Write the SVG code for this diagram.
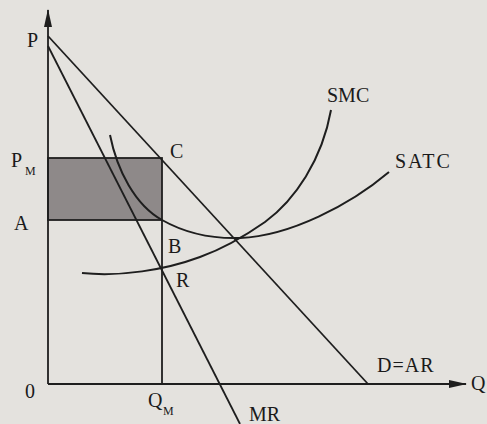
<svg xmlns="http://www.w3.org/2000/svg" width="487" height="424" viewBox="0 0 487 424">
<style>
.ln{fill:none;stroke:#1e1e1e;stroke-width:1.8}
.cv{fill:none;stroke:#1e1e1e;stroke-width:2}
.t{font-family:"Liberation Serif","Times New Roman",serif;font-size:20px;fill:#1a1a1a}
.s{font-family:"Liberation Serif","Times New Roman",serif;font-size:12px;fill:#1a1a1a}
</style>
<defs>
<marker id="ah" viewBox="0 0 18 8" refX="17" refY="4" markerWidth="18" markerHeight="8" markerUnits="userSpaceOnUse" orient="auto">
<path d="M0,0 L18,4 L0,8 Z" fill="#1e1e1e"/>
</marker>
</defs>
<rect width="487" height="424" fill="#e4e2de"/>
<g id="profit">
<rect x="48" y="158" width="114" height="62" fill="#8e8989" stroke="#1e1e1e" stroke-width="1.8"/>
</g>
<g id="axes">
<line class="ln" x1="48" y1="384" x2="48" y2="10" marker-end="url(#ah)"/>
<line class="ln" x1="48" y1="384" x2="466" y2="384" marker-end="url(#ah)"/>
<line class="ln" x1="162" y1="220" x2="162" y2="384"/>
</g>
<g id="demand">
<line class="ln" x1="48" y1="36" x2="368" y2="384"/>
</g>
<g id="mr">
<line class="ln" x1="48" y1="46" x2="240" y2="424"/>
</g>
<g id="satc">
<path class="cv" d="M110,135 C117,170 135,205 162,220 C185,233 210,239 240,238 C290,236 350,205 389,172"/>
</g>
<g id="smc">
<path class="cv" d="M82,273 C120,277 165,270 200,257 C225,248 245,236 265,222 C295,200 322,160 331,110"/>
</g>
<g id="labels">
<text class="t" x="27" y="47">P</text>
<text class="t" x="11" y="167">P</text><text class="s" x="25" y="175">M</text>
<text class="t" x="14" y="230">A</text>
<text class="t" x="170" y="158">C</text>
<text class="t" x="168" y="253">B</text>
<text class="t" x="176" y="287">R</text>
<text class="t" x="25" y="398">0</text>
<text class="t" x="148" y="407">Q</text><text class="s" x="163" y="415">M</text>
<text class="t" x="249" y="421">MR</text>
<text class="t" x="377" y="372" letter-spacing="1">D=AR</text>
<text class="t" x="471" y="390">Q</text>
<text class="t" x="327" y="102">SMC</text>
<text class="t" x="395" y="168" letter-spacing="2">SATC</text>
</g>
</svg>
